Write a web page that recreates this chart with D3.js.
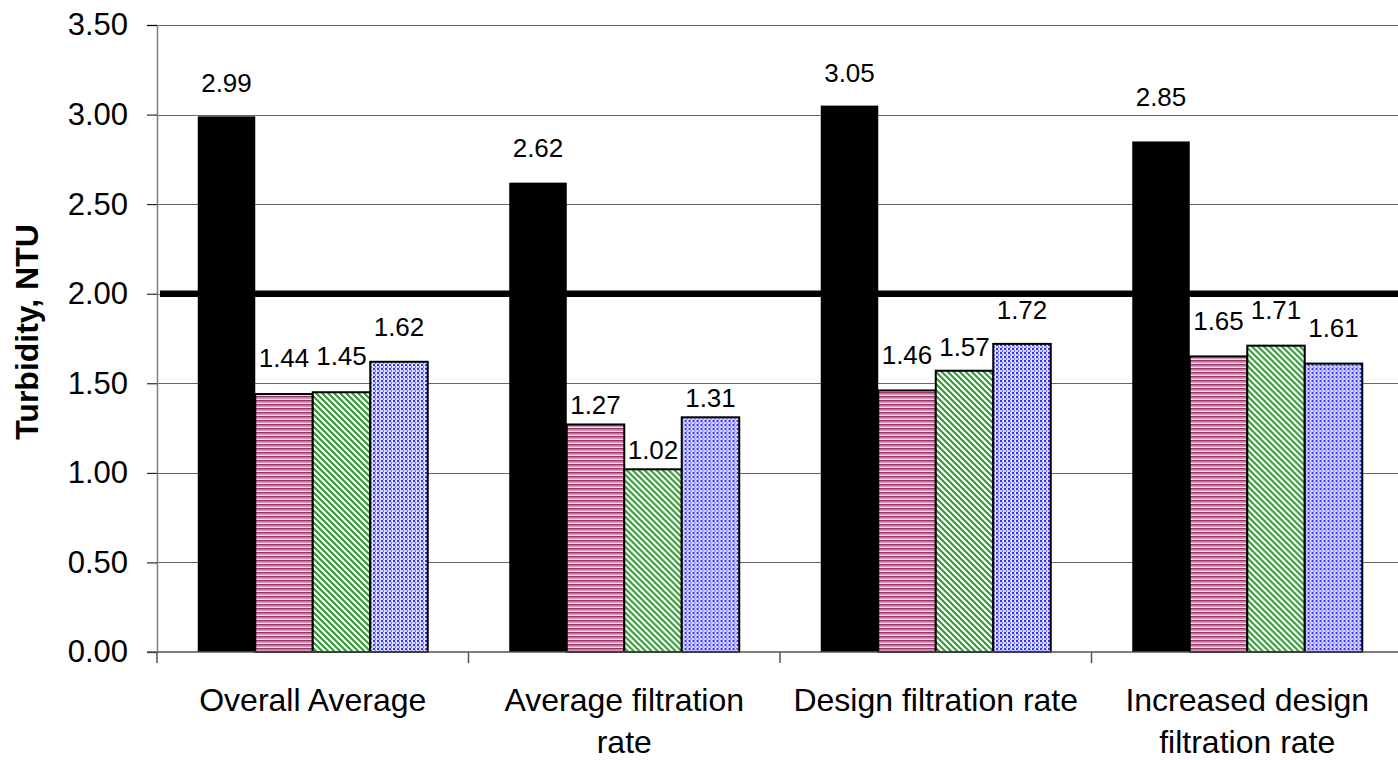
<!DOCTYPE html>
<html>
<head>
<meta charset="utf-8">
<script src="https://cdn.jsdelivr.net/npm/d3@7"></script>
<style>
  html, body { margin: 0; padding: 0; background: #fff; }
  svg { display: block; font-family: "Liberation Sans", Arial, sans-serif; }
</style>
</head>
<body>
<svg id="chart" width="1398" height="760"></svg>
<script>
// Turbidity by filtration-rate condition
const categories = ["Overall Average", "Average filtration rate", "Design filtration rate", "Increased design filtration rate"];
const seriesKeys = ["s1", "s2", "s3", "s4"];
const series1 = [2.99, 2.62, 3.05, 2.85];
const series2 = [1.44, 1.27, 1.46, 1.65];
const series3 = [1.45, 1.02, 1.57, 1.71];
const series4 = [1.62, 1.31, 1.72, 1.61];
const referenceLevel = 2.00;
const yTickValues = [0, 0.5, 1.0, 1.5, 2.0, 2.5, 3.0, 3.5];
const yTitle = "Turbidity, NTU";

// label baseline lift above each bar top (px), per series, per category
const labelLift = [
  [24, 26, 24, 35],
  [27, 10, 26, 26],
  [27, 10, 15, 27],
  [26, 10, 25, 27]
];

const svg = d3.select("#chart");
const W = 1398, H = 760;
const plotLeft = 157, plotTop = 25, plotBottom = 652;
const step = 311.5;
const inset = 40.75;

const y = d3.scaleLinear().domain([0, 3.5]).range([plotBottom, plotTop]);
const x0 = d3.scaleBand().domain(categories).range([plotLeft, plotLeft + step * categories.length]).padding(0);
const x1 = d3.scaleBand().domain(seriesKeys).range([inset, x0.bandwidth() - inset]).padding(0);

const allSeries = [series1, series2, series3, series4];

// fill patterns
const defs = svg.append("defs");
const pPink = defs.append("pattern").attr("id", "pPink").attr("patternUnits", "userSpaceOnUse")
  .attr("width", 4).attr("height", 4);
pPink.append("rect").attr("width", 4).attr("height", 4).attr("fill", "#f3e0ea");
pPink.append("rect").attr("y", 0).attr("width", 4).attr("height", 1.6).attr("fill", "#993366");
pPink.append("rect").attr("y", 1.6).attr("width", 4).attr("height", 1.2).attr("fill", "#c985a8");

const pGreen = defs.append("pattern").attr("id", "pGreen").attr("patternUnits", "userSpaceOnUse")
  .attr("width", 6).attr("height", 6);
pGreen.append("rect").attr("width", 6).attr("height", 6).attr("fill", "#ffffff");
pGreen.append("path").attr("d", "M-1,-1 L7,7 M-4,2 L2,8 M2,-4 L8,2")
  .attr("stroke", "#339933").attr("stroke-width", 2.1);

const pBlue = defs.append("pattern").attr("id", "pBlue").attr("patternUnits", "userSpaceOnUse")
  .attr("width", 4).attr("height", 4);
pBlue.append("rect").attr("width", 4).attr("height", 4).attr("fill", "#d2d2ff");
pBlue.append("rect").attr("x", 0).attr("y", 0).attr("width", 2).attr("height", 2).attr("fill", "#3333ff");
pBlue.append("rect").attr("x", 2).attr("y", 2).attr("width", 2).attr("height", 2).attr("fill", "#7070fa");
pBlue.append("rect").attr("x", 3.2).attr("y", 0).attr("width", 0.8).attr("height", 4).attr("fill", "#f2f2ff");

const fills = ["#000000", "url(#pPink)", "url(#pGreen)", "url(#pBlue)"];

// gridlines
svg.append("g").selectAll("line").data(yTickValues.filter(v => v > 0)).join("line")
  .attr("x1", plotLeft).attr("x2", W)
  .attr("y1", d => Math.round(y(d)) + 0.5).attr("y2", d => Math.round(y(d)) + 0.5)
  .attr("stroke", "#666").attr("stroke-width", 1);

// y axis
const yAxis = svg.append("g").attr("transform", `translate(${plotLeft},0)`)
  .call(d3.axisLeft(y).tickValues(yTickValues).tickFormat(d3.format(".2f")).tickSize(10).tickPadding(19));
yAxis.select(".domain").attr("stroke", "#808080").attr("stroke-width", 1.5);
yAxis.selectAll(".tick line").attr("stroke", "#000");
yAxis.selectAll(".tick text").attr("font-size", 31).attr("font-family", "Liberation Sans, Arial, sans-serif").attr("fill", "#000");

// bars
const groups = svg.append("g").selectAll("g").data(categories).join("g")
  .attr("transform", d => `translate(${x0(d)},0)`);
groups.selectAll("rect").data((c, ci) => seriesKeys.map((k, si) => ({ k, si, v: allSeries[si][ci] })))
  .join("rect")
  .attr("x", d => x1(d.k))
  .attr("width", x1.bandwidth())
  .attr("y", d => y(d.v))
  .attr("height", d => y(0) - y(d.v))
  .attr("fill", d => fills[d.si])
  .attr("stroke", d => d.si === 0 ? "none" : "#000")
  .attr("stroke-width", 2);

// x axis line and category boundary ticks
svg.append("line").attr("x1", plotLeft - 10).attr("x2", W).attr("y1", y(0)).attr("y2", y(0))
  .attr("stroke", "#555").attr("stroke-width", 1.5);
svg.append("g").selectAll("line").data(categories).join("line")
  .attr("x1", d => x0(d)).attr("x2", d => x0(d))
  .attr("y1", y(0)).attr("y2", y(0) + 11)
  .attr("stroke", "#555").attr("stroke-width", 1.5);

// reference level
svg.append("line").attr("x1", plotLeft + 3).attr("x2", W)
  .attr("y1", y(referenceLevel)).attr("y2", y(referenceLevel))
  .attr("stroke", "#000").attr("stroke-width", 6.5);

// value labels
groups.selectAll("text").data((c, ci) => seriesKeys.map((k, si) => ({ k, si, ci, v: allSeries[si][ci] })))
  .join("text")
  .attr("x", d => x1(d.k) + x1.bandwidth() / 2)
  .attr("y", d => y(d.v) - labelLift[d.si][d.ci])
  .attr("text-anchor", "middle")
  .attr("font-size", 26)
  .attr("fill", "#000")
  .text(d => d3.format(".2f")(d.v));

// category labels, wrapped to the band width
const catLabels = svg.append("g").selectAll("text").data(categories).join("text")
  .attr("text-anchor", "middle")
  .attr("font-size", 32)
  .attr("fill", "#000");
catLabels.each(function (d) {
  const t = d3.select(this);
  const cx = x0(d) + x0.bandwidth() / 2;
  const words = d.split(" ");
  let lines = [], cur = [];
  const probe = t.append("tspan");
  words.forEach(w => {
    const trial = cur.concat(w).join(" ");
    probe.text(trial);
    if (probe.node().getComputedTextLength() > 292 && cur.length) {
      lines.push(cur.join(" "));
      cur = [w];
    } else {
      cur.push(w);
    }
  });
  lines.push(cur.join(" "));
  probe.remove();
  lines.forEach((ln, i) => {
    t.append("tspan").attr("x", cx).attr("y", 711 + i * 42).text(ln);
  });
});

// y axis title
svg.append("text")
  .attr("transform", `translate(38,332) rotate(-90)`)
  .attr("text-anchor", "middle")
  .attr("font-size", 32)
  .attr("font-weight", "bold")
  .attr("fill", "#000")
  .text(yTitle);
</script>
</body>
</html>
